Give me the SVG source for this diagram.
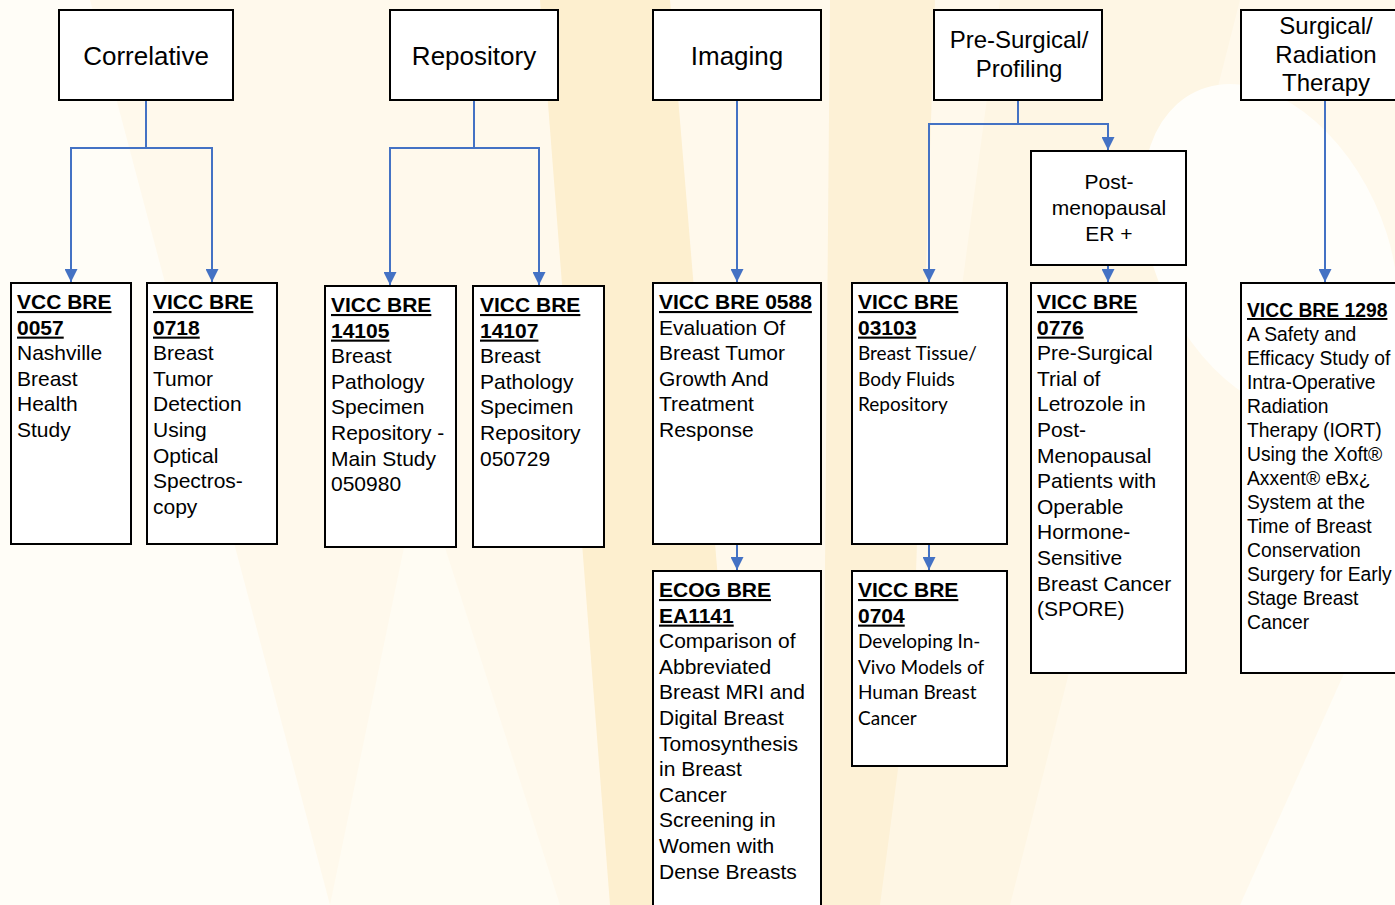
<svg xmlns="http://www.w3.org/2000/svg" width="1395" height="905" viewBox="0 0 1395 905">
<defs>
<style>
.box{fill:#ffffff;stroke:#000000;stroke-width:2}
.hd{font-family:"Liberation Sans",Arial,sans-serif;font-size:26px;fill:#000;text-anchor:middle}
.hd2{font-family:"Liberation Sans",Arial,sans-serif;font-size:24px;fill:#000;text-anchor:middle}
.mid{font-family:"Liberation Sans",Arial,sans-serif;font-size:21px;fill:#000;text-anchor:middle}
.t{font-family:"Liberation Sans",Arial,sans-serif;font-size:21px;fill:#000}
.ts{font-family:"Liberation Sans",Arial,sans-serif;font-size:19.3px;fill:#000}
.c{font-family:Lato,"Open Sans",sans-serif;font-size:19px;fill:#000}
.b{font-family:"Liberation Sans",Arial,sans-serif;font-weight:bold;text-decoration:underline}
.conn{fill:none;stroke:#4472C4;stroke-width:2}
</style>
<marker id="ah" markerUnits="userSpaceOnUse" markerWidth="13" markerHeight="13" refX="13" refY="6.5" orient="auto">
<path d="M0,0 L13,6.5 L0,13 z" fill="#4472C4"/>
</marker>
</defs>

<g id="background">
<rect x="0" y="0" width="1395" height="905" fill="#FFF9EC"/>
<polygon points="0,0 90,0 330,905 0,905" fill="#FFFDF7"/>
<polygon points="330,905 420,470 560,905" fill="#FFFCF3"/>
<polygon points="540,0 670,0 745,905 610,905" fill="#FDEFCF"/>
<polygon points="830,0 935,0 905,905 822,905" fill="#FDF1D6"/>
<polygon points="1000,0 1240,0 1010,905 880,905" fill="#FEF6E4"/>
<ellipse cx="1270" cy="250" rx="115" ry="175" transform="rotate(-25 1270 250)" fill="#FFFEFA"/>
<polygon points="1240,905 1395,560 1395,905" fill="#FFFDF7"/>
</g>

<g id="connectors">
<polyline class="conn" points="146,100 146,148 71,148 71,282" marker-end="url(#ah)"/>
<polyline class="conn" points="146,148 212,148 212,282" marker-end="url(#ah)"/>
<polyline class="conn" points="474,100 474,148 390,148 390,285" marker-end="url(#ah)"/>
<polyline class="conn" points="474,148 539,148 539,285" marker-end="url(#ah)"/>
<polyline class="conn" points="737,100 737,282" marker-end="url(#ah)"/>
<polyline class="conn" points="1018,100 1018,124 929,124 929,282" marker-end="url(#ah)"/>
<polyline class="conn" points="1018,124 1108,124 1108,150" marker-end="url(#ah)"/>
<polyline class="conn" points="1108,265 1108,282" marker-end="url(#ah)"/>
<polyline class="conn" points="1325,100 1325,282" marker-end="url(#ah)"/>
<polyline class="conn" points="737,544 737,570" marker-end="url(#ah)"/>
<polyline class="conn" points="929,544 929,570" marker-end="url(#ah)"/>
</g>

<g id="correlative">
<rect class="box" x="59" y="10" width="174" height="90"/>
<text class="hd" x="146" y="65">Correlative</text>
</g>
<g id="repository">
<rect class="box" x="390" y="10" width="168" height="90"/>
<text class="hd" x="474" y="65">Repository</text>
</g>
<g id="imaging">
<rect class="box" x="653" y="10" width="168" height="90"/>
<text class="hd" x="737" y="65">Imaging</text>
</g>
<g id="presurgical">
<rect class="box" x="934" y="10" width="168" height="90"/>
<text class="hd2" x="1019" y="48">Pre-Surgical/</text>
<text class="hd2" x="1019" y="77">Profiling</text>
</g>
<g id="surgical">
<rect class="box" x="1241" y="10" width="170" height="90"/>
<text class="hd2" x="1326" y="34">Surgical/</text>
<text class="hd2" x="1326" y="63">Radiation</text>
<text class="hd2" x="1326" y="91">Therapy</text>
</g>
<g id="postmeno">
<rect class="box" x="1031" y="151" width="155" height="114"/>
<text class="mid" x="1109" y="189">Post-</text>
<text class="mid" x="1109" y="215">menopausal</text>
<text class="mid" x="1109" y="241">ER +</text>
</g>

<g id="vcc0057">
<rect class="box" x="11" y="283" width="120" height="261"/>
<text class="t" x="17" y="309"><tspan class="b">VCC BRE</tspan><tspan class="b" x="17" dy="25.6">0057</tspan><tspan x="17" dy="25.6">Nashville</tspan><tspan x="17" dy="25.6">Breast</tspan><tspan x="17" dy="25.6">Health</tspan><tspan x="17" dy="25.6">Study</tspan></text>
</g>
<g id="vicc0718">
<rect class="box" x="147" y="283" width="130" height="261"/>
<text class="t" x="153" y="309"><tspan class="b">VICC BRE</tspan><tspan class="b" x="153" dy="25.6">0718</tspan><tspan x="153" dy="25.6">Breast</tspan><tspan x="153" dy="25.6">Tumor</tspan><tspan x="153" dy="25.6">Detection</tspan><tspan x="153" dy="25.6">Using</tspan><tspan x="153" dy="25.6">Optical</tspan><tspan x="153" dy="25.6">Spectros-</tspan><tspan x="153" dy="25.6">copy</tspan></text>
</g>
<g id="vicc14105">
<rect class="box" x="325" y="286" width="131" height="261"/>
<text class="t" x="331" y="312"><tspan class="b">VICC BRE</tspan><tspan class="b" x="331" dy="25.6">14105</tspan><tspan x="331" dy="25.6">Breast</tspan><tspan x="331" dy="25.6">Pathology</tspan><tspan x="331" dy="25.6">Specimen</tspan><tspan x="331" dy="25.6">Repository -</tspan><tspan x="331" dy="25.6">Main Study</tspan><tspan x="331" dy="25.6">050980</tspan></text>
</g>
<g id="vicc14107">
<rect class="box" x="473" y="286" width="131" height="261"/>
<text class="t" x="480" y="312"><tspan class="b">VICC BRE</tspan><tspan class="b" x="480" dy="25.6">14107</tspan><tspan x="480" dy="25.6">Breast</tspan><tspan x="480" dy="25.6">Pathology</tspan><tspan x="480" dy="25.6">Specimen</tspan><tspan x="480" dy="25.6">Repository</tspan><tspan x="480" dy="25.6">050729</tspan></text>
</g>
<g id="vicc0588">
<rect class="box" x="653" y="283" width="168" height="261"/>
<text class="t" x="659" y="309"><tspan class="b">VICC BRE 0588</tspan><tspan x="659" dy="25.6">Evaluation Of</tspan><tspan x="659" dy="25.6">Breast Tumor</tspan><tspan x="659" dy="25.6">Growth And</tspan><tspan x="659" dy="25.6">Treatment</tspan><tspan x="659" dy="25.6">Response</tspan></text>
</g>
<g id="vicc03103">
<rect class="box" x="852" y="283" width="155" height="261"/>
<text class="t" x="858" y="309"><tspan class="b">VICC BRE</tspan><tspan class="b" x="858" dy="25.6">03103</tspan></text>
<text class="c" x="858" y="360"><tspan>Breast Tissue/</tspan><tspan x="858" dy="25.6">Body Fluids</tspan><tspan x="858" dy="25.6">Repository</tspan></text>
</g>
<g id="vicc0776">
<rect class="box" x="1031" y="283" width="155" height="390"/>
<text class="t" x="1037" y="309"><tspan class="b">VICC BRE</tspan><tspan class="b" x="1037" dy="25.6">0776</tspan><tspan x="1037" dy="25.6">Pre-Surgical</tspan><tspan x="1037" dy="25.6">Trial of</tspan><tspan x="1037" dy="25.6">Letrozole in</tspan><tspan x="1037" dy="25.6">Post-</tspan><tspan x="1037" dy="25.6">Menopausal</tspan><tspan x="1037" dy="25.6">Patients with</tspan><tspan x="1037" dy="25.6">Operable</tspan><tspan x="1037" dy="25.6">Hormone-</tspan><tspan x="1037" dy="25.6">Sensitive</tspan><tspan x="1037" dy="25.6">Breast Cancer</tspan><tspan x="1037" dy="25.6">(SPORE)</tspan></text>
</g>
<g id="vicc1298">
<rect class="box" x="1241" y="283" width="170" height="390"/>
<text class="ts" x="1247" y="317"><tspan class="b">VICC BRE 1298</tspan><tspan x="1247" dy="24">A Safety and</tspan><tspan x="1247" dy="24">Efficacy Study of</tspan><tspan x="1247" dy="24">Intra-Operative</tspan><tspan x="1247" dy="24">Radiation</tspan><tspan x="1247" dy="24">Therapy (IORT)</tspan><tspan x="1247" dy="24">Using the Xoft®</tspan><tspan x="1247" dy="24">Axxent® eBx¿</tspan><tspan x="1247" dy="24">System at the</tspan><tspan x="1247" dy="24">Time of Breast</tspan><tspan x="1247" dy="24">Conservation</tspan><tspan x="1247" dy="24">Surgery for Early</tspan><tspan x="1247" dy="24">Stage Breast</tspan><tspan x="1247" dy="24">Cancer</tspan></text>
</g>
<g id="ecogEA1141">
<rect class="box" x="653" y="571" width="168" height="350"/>
<text class="t" x="659" y="597"><tspan class="b">ECOG BRE</tspan><tspan class="b" x="659" dy="25.6">EA1141</tspan><tspan x="659" dy="25.6">Comparison of</tspan><tspan x="659" dy="25.6">Abbreviated</tspan><tspan x="659" dy="25.6">Breast MRI and</tspan><tspan x="659" dy="25.6">Digital Breast</tspan><tspan x="659" dy="25.6">Tomosynthesis</tspan><tspan x="659" dy="25.6">in Breast</tspan><tspan x="659" dy="25.6">Cancer</tspan><tspan x="659" dy="25.6">Screening in</tspan><tspan x="659" dy="25.6">Women with</tspan><tspan x="659" dy="25.6">Dense Breasts</tspan></text>
</g>
<g id="vicc0704">
<rect class="box" x="852" y="571" width="155" height="195"/>
<text class="t" x="858" y="597"><tspan class="b">VICC BRE</tspan><tspan class="b" x="858" dy="25.6">0704</tspan></text>
<text class="c" x="858" y="648"><tspan>Developing In-</tspan><tspan x="858" dy="25.6">Vivo Models of</tspan><tspan x="858" dy="25.6">Human Breast</tspan><tspan x="858" dy="25.6">Cancer</tspan></text>
</g>
</svg>
